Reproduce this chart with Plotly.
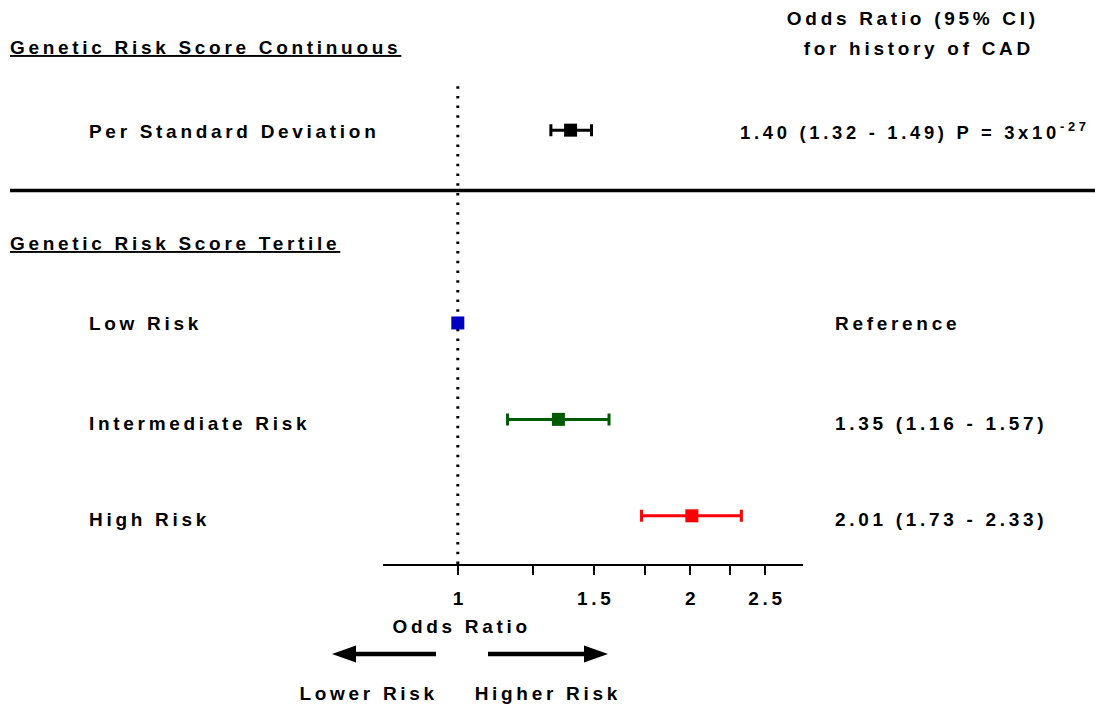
import plotly.graph_objects as go

# ---- data -------------------------------------------------------------
categories = ["Per Standard Deviation", "Low Risk", "Intermediate Risk", "High Risk"]
odds_ratio = [1.40, 1.00, 1.35, 2.01]
ci_low = [1.32, None, 1.16, 1.73]
ci_high = [1.49, None, 1.57, 2.33]
p_value_text = "P = 3x10<sup>-27</sup>"

major_ticks = [1, 1.5, 2, 2.5]
major_labels = ["1", "1.5", "2", "2.5"]
minor_ticks = [1.25, 1.75, 2.25]

# ---- layout helpers ---------------------------------------------------
W, H = 1095, 705
PLOT_L, PLOT_R = 383, 803      # x-axis extent in pixels
PLOT_T, PLOT_B = 0, 564        # plot area top / axis line in pixels
row_pos = [5, 3, 2, 1]         # vertical slot of each row
label_y = [131, 323, 423, 519]  # pixel centre of each row's text
row_colors = ["#000000", "#0000C0", "#005A00", "#FF0000"]

FONT = "Liberation Sans, Arial, sans-serif"
FS = 19
TRACKING = 3.7


def px(x):
    """pixel x -> paper x"""
    return (x - PLOT_L) / (PLOT_R - PLOT_L)


def py(y):
    """pixel y -> paper y"""
    return (PLOT_B - y) / (PLOT_B - PLOT_T)


def txt(text, x, y, xanchor="left", underline=False, size=FS):
    font = dict(family=FONT, size=size, color="#000000", weight="bold")
    if underline:
        font["lineposition"] = "under"
    return dict(
        text=text, x=px(x), y=py(y),
        xref="paper", yref="paper", xanchor=xanchor, yanchor="middle",
        align=xanchor,
        showarrow=False, font=font,
    )


fig = go.Figure()

# reference line at OR = 1
fig.add_trace(go.Scatter(
    x=[1, 1], y=[0.5, 5.5], mode="lines",
    line=dict(color="#000000", width=3, dash="2.5px,7.2px"),
    hoverinfo="skip", showlegend=False,
))

# point estimates with 95% CI
for cat, orv, lo, hi, yv, col in zip(categories, odds_ratio, ci_low, ci_high, row_pos, row_colors):
    err = None
    if lo is not None:
        err = dict(type="data", symmetric=False, array=[hi - orv], arrayminus=[orv - lo],
                   color=col, thickness=3, width=6)
    fig.add_trace(go.Scatter(
        x=[orv], y=[yv], mode="markers", name=cat,
        marker=dict(symbol="square", size=13, color=col, line=dict(width=0)),
        error_x=err, showlegend=False, cliponaxis=False,
    ))

annotations = []
# left-hand row labels
for cat, yl in zip(categories, label_y):
    annotations.append(txt(cat, 87, yl))

# right-hand OR (95% CI) column
for i, (orv, lo, hi, yl) in enumerate(zip(odds_ratio, ci_low, ci_high, label_y)):
    if lo is None:
        label = "Reference"
    else:
        label = f"{orv:.2f} ({lo:.2f} - {hi:.2f})"
    if i == 0:
        # continuous score: estimate plus p-value, a touch smaller to fit the width
        annotations.append(txt(label + " " + p_value_text, 738, yl, size=18.4))
    else:
        annotations.append(txt(label, 833, yl))

# section headings
annotations.append(txt("Genetic Risk Score Continuous", 8, 47, underline=True))
annotations.append(txt("Genetic Risk Score Tertile", 8, 243, underline=True))

# column heading
annotations.append(txt("Odds Ratio (95% CI)", 913, 19, xanchor="center"))
annotations.append(txt("for history of CAD", 919, 49, xanchor="center"))

# axis caption and direction hints
annotations.append(txt("Odds Ratio", 461, 626, xanchor="center"))
annotations.append(txt("Lower Risk", 369, 693, xanchor="center"))
annotations.append(txt("Higher Risk", 548, 693, xanchor="center"))


def arrow_path(tail, tip, yc, head_len=24, head_half=8.5, shaft_half=2.3):
    d = 1 if tip > tail else -1
    base = tip - d * head_len
    pts = [
        (tail, yc - shaft_half), (base, yc - shaft_half), (base, yc - head_half),
        (tip, yc), (base, yc + head_half), (base, yc + shaft_half), (tail, yc + shaft_half),
    ]
    return "M " + " L ".join(f"{px(a):.5f},{py(b):.5f}" for a, b in pts) + " Z"


shapes = [
    # separator between the two sections
    dict(type="line", xref="paper", yref="paper", x0=px(10), x1=px(1095),
         y0=py(190.5), y1=py(190.5), line=dict(color="#000000", width=3.5)),
    # direction arrows under the axis
    dict(type="path", xref="paper", yref="paper", path=arrow_path(436, 332, 654),
         fillcolor="#000000", line=dict(width=0)),
    dict(type="path", xref="paper", yref="paper", path=arrow_path(488, 608, 654),
         fillcolor="#000000", line=dict(width=0)),
]

fig.update_layout(
    template="none",
    width=W, height=H,
    margin=dict(l=PLOT_L, r=W - PLOT_R, t=PLOT_T, b=H - PLOT_B, pad=0),
    paper_bgcolor="#FFFFFF", plot_bgcolor="#FFFFFF",
    showlegend=False,
    annotations=annotations,
    shapes=shapes,
    xaxis=dict(
        type="log", range=[-0.09691, 0.4472],
        showline=True, linecolor="#000000", linewidth=2,
        ticks="outside", ticklen=9, tickwidth=2, tickcolor="#000000",
        tickmode="array", tickvals=major_ticks, ticktext=major_labels,
        ticklabelstandoff=7, ticklabelshift=2,
        tickfont=dict(family=FONT, size=FS, color="#000000", weight="bold"),
        minor=dict(tickmode="array", tickvals=minor_ticks, ticks="outside",
                   ticklen=9, tickwidth=2, tickcolor="#000000", showgrid=False),
        showgrid=False, zeroline=False, automargin=False,
    ),
    yaxis=dict(range=[0.5, 6.35], visible=False, fixedrange=True, automargin=False),
)

# wide character tracking used throughout the figure
post = (
    "var st=document.createElement('style');"
    f"st.textContent='.annotation-text, .xtick text{{letter-spacing:{TRACKING}px;}}';"
    "document.head.appendChild(st);"
)

fig.write_html("out.html", post_script=post)
